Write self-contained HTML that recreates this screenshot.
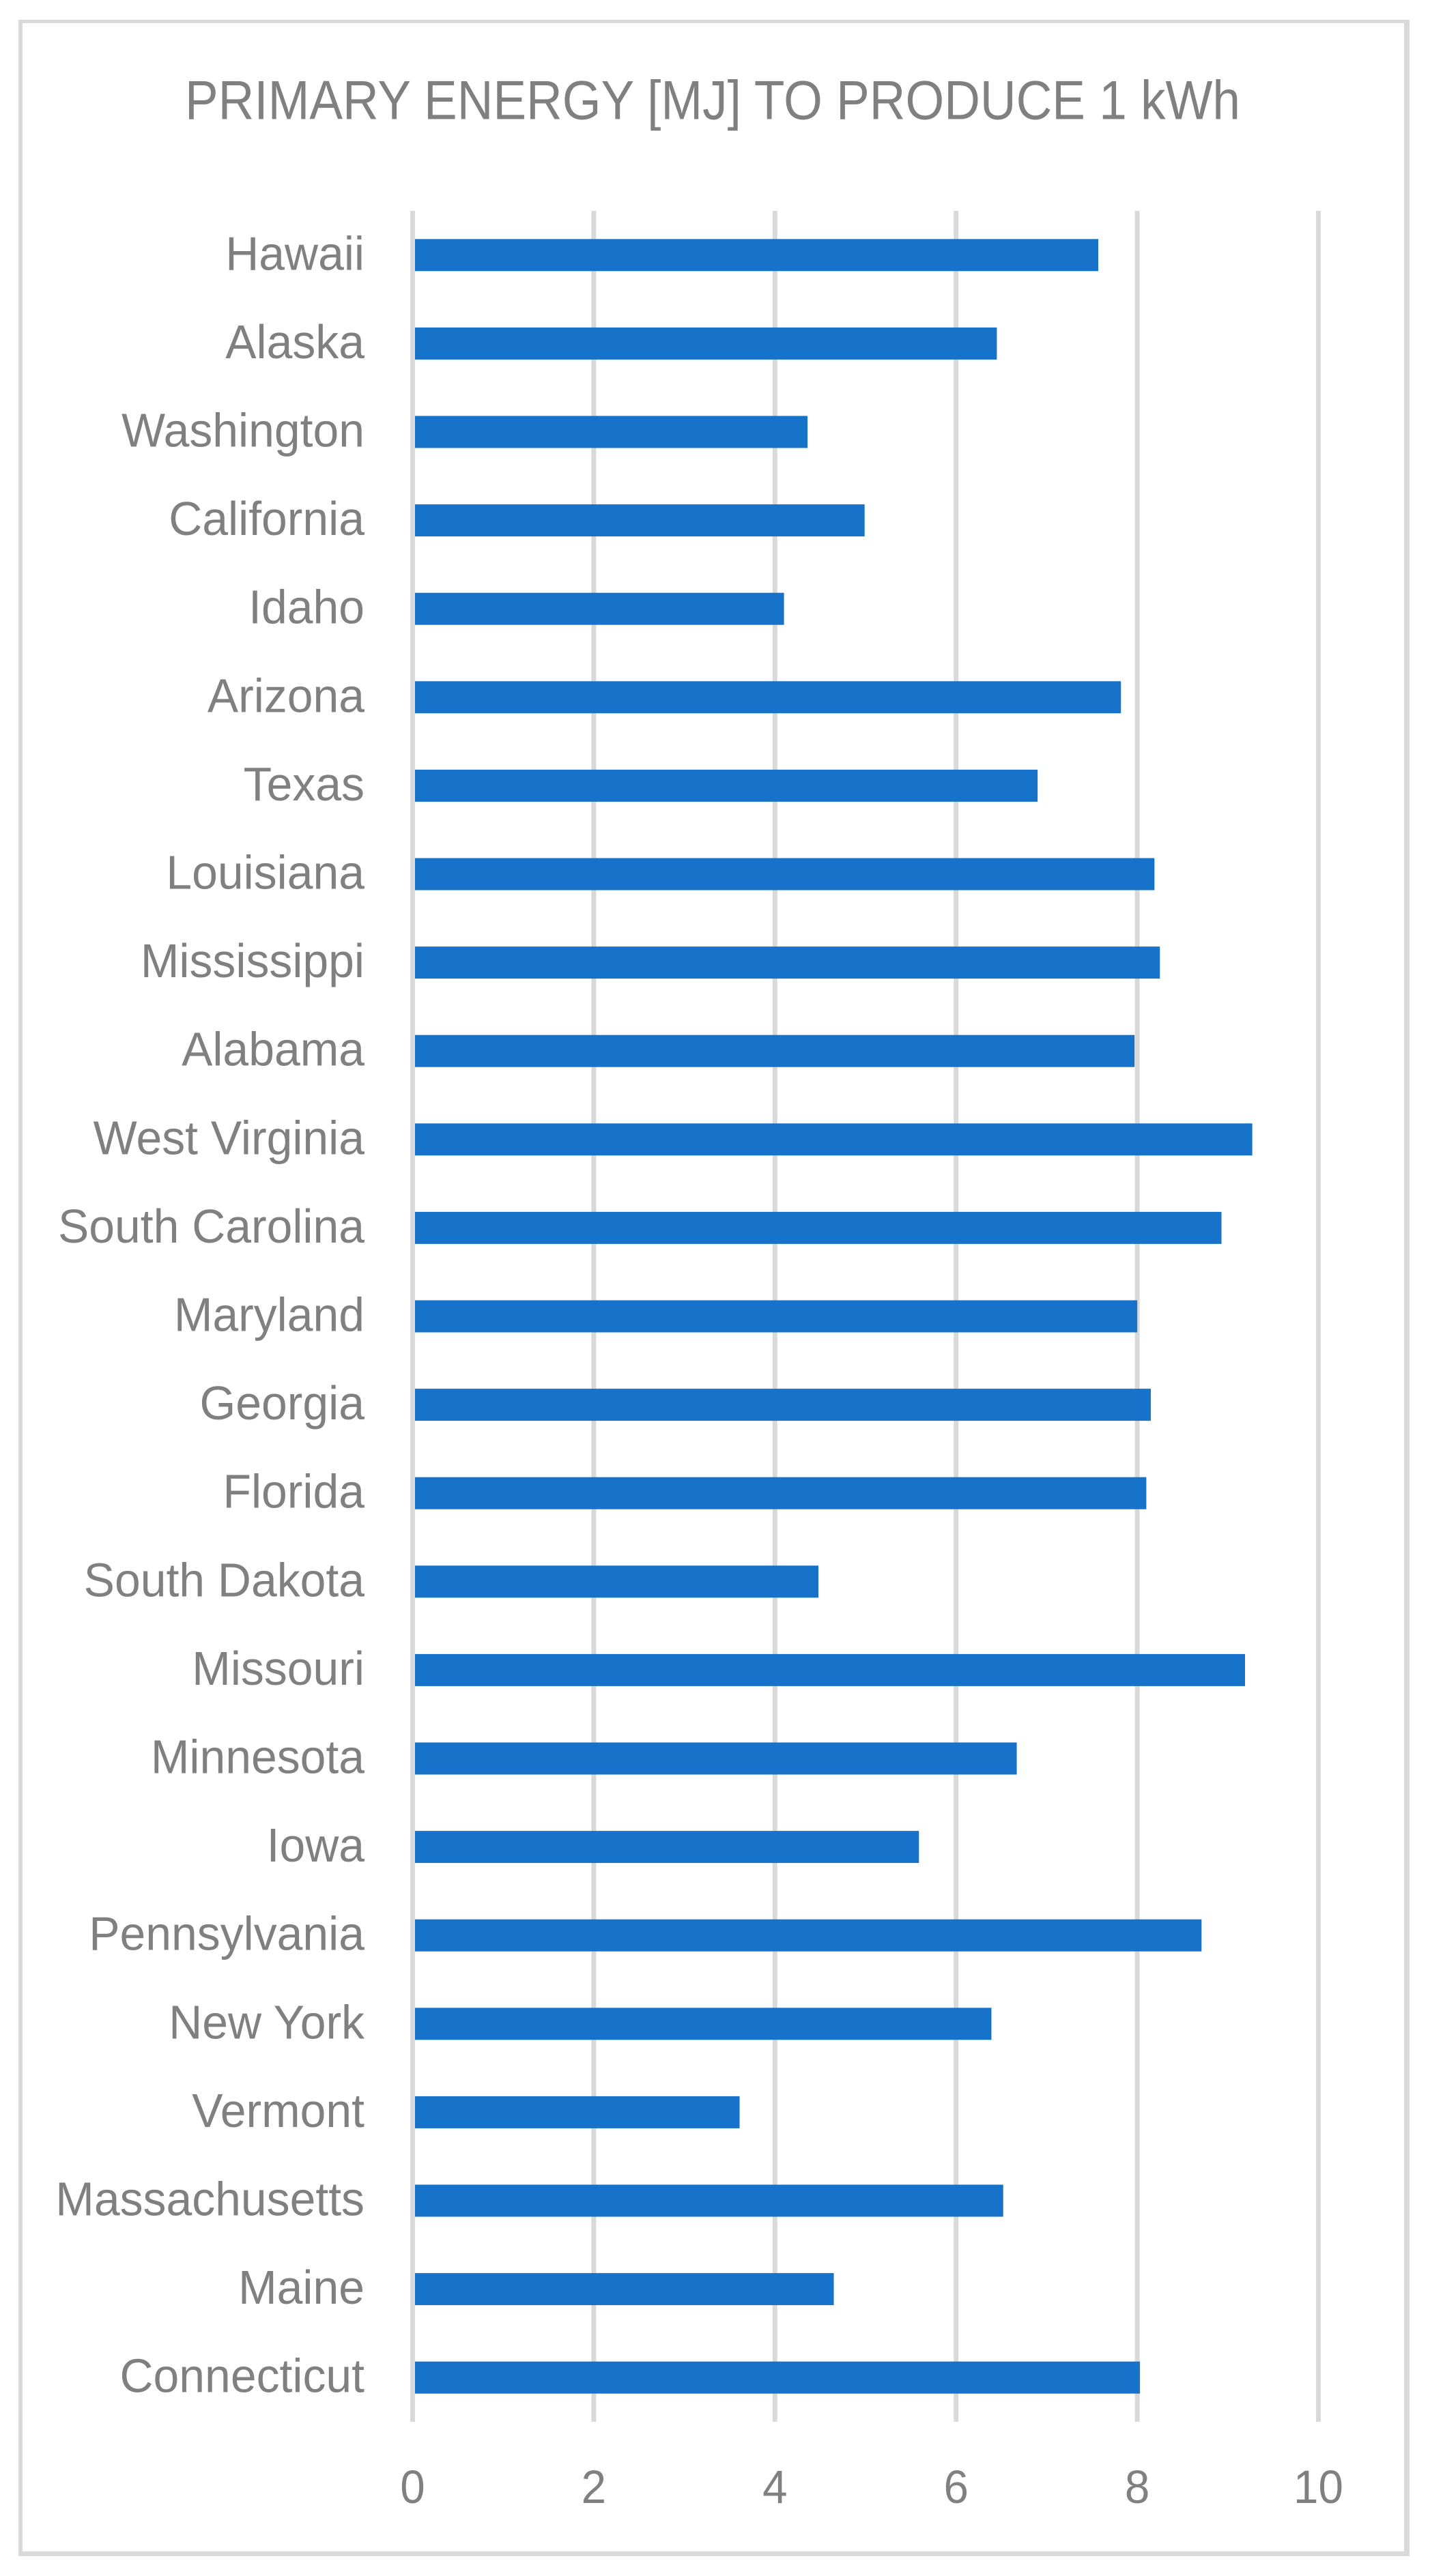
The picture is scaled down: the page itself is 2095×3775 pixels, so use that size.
<!DOCTYPE html>
<html lang="en">
<head>
<meta charset="utf-8">
<title>Primary energy to produce 1 kWh</title>
<style>
  html, body { margin: 0; padding: 0; background: #fff; }
  svg { display: block; font-family: "Liberation Sans", sans-serif; }
  text { fill: #808080; }
</style>
</head>
<body>
<svg id="chart" xmlns="http://www.w3.org/2000/svg" width="2095" height="3775" viewBox="0 0 2095 3775">
  <rect x="0" y="0" width="2095" height="3775" fill="#ffffff"></rect>
  <path d="M27 29H2065V3746H27Z M33 34V3739H2057V34Z" fill="#d9d9d9" fill-rule="evenodd"></path>
  <text x="271" y="174.5" font-size="81" textLength="1546" lengthAdjust="spacingAndGlyphs">PRIMARY ENERGY [MJ] TO PRODUCE 1 kWh</text>
  <g id="grid"></g>
  <g id="bars"></g>
  <g id="axis-zero"></g>
  <g id="cat-labels"></g>
  <g id="val-labels"></g>
</svg>
<script>
const categories = ["Hawaii","Alaska","Washington","California","Idaho","Arizona","Texas","Louisiana","Mississippi","Alabama","West Virginia","South Carolina","Maryland","Georgia","Florida","South Dakota","Missouri","Minnesota","Iowa","Pennsylvania","New York","Vermont","Massachusetts","Maine","Connecticut"];
const energyValues = [7.57,6.45,4.36,4.99,4.10,7.82,6.90,8.19,8.25,7.97,9.27,8.93,8.00,8.15,8.10,4.48,9.19,6.67,5.59,8.71,6.39,3.61,6.52,4.65,8.03];
const tickValues = [0,2,4,6,8,10];

const NS = "http://www.w3.org/2000/svg";
const plot = { left: 604.5, right: 1931.5, top: 309, bottom: 3549, barHeight: 47, lineWidth: 7 };
const axisMax = tickValues[tickValues.length - 1];

function xScale(v) {
  return plot.left + (v / axisMax) * (plot.right - plot.left);
}
function yCenter(i) {
  const band = (plot.bottom - plot.top) / categories.length;
  return plot.top + band * (i + 0.5);
}
function slug(s) {
  return s.toLowerCase().replace(/[^a-z0-9]+/g, "-");
}
function make(tag, attrs) {
  const el = document.createElementNS(NS, tag);
  for (const k in attrs) el.setAttribute(k, attrs[k]);
  return el;
}

const gridGroup = document.getElementById("grid");
const zeroGroup = document.getElementById("axis-zero");
const barGroup = document.getElementById("bars");
const catGroup = document.getElementById("cat-labels");
const valGroup = document.getElementById("val-labels");

tickValues.forEach(function (t) {
  const line = make("rect", {
    x: xScale(t) - plot.lineWidth / 2,
    y: plot.top,
    width: plot.lineWidth,
    height: plot.bottom - plot.top,
    fill: "#d9d9d9"
  });
  
  
  (t === 0 ? zeroGroup : gridGroup).appendChild(line);

  const label = make("text", {
    transform: "translate(" + xScale(t) + " 3668) scale(0.95 1)",
    "font-size": 69,
    "text-anchor": "middle"
  });
  label.textContent = String(t);
  
  
  valGroup.appendChild(label);
});

categories.forEach(function (name, i) {
  const cy = yCenter(i);
  const bar = make("rect", {
    x: xScale(0),
    y: cy - plot.barHeight / 2,
    width: xScale(energyValues[i]) - xScale(0),
    height: plot.barHeight,
    fill: "#1773c9"
  });
  
  
  barGroup.appendChild(bar);

  const label = make("text", {
    transform: "translate(534 " + (cy + 21.5) + ") scale(0.97 1)",
    "font-size": 70,
    "text-anchor": "end"
  });
  label.textContent = name;
  
  
  catGroup.appendChild(label);
});
</script>
</body>
</html>
